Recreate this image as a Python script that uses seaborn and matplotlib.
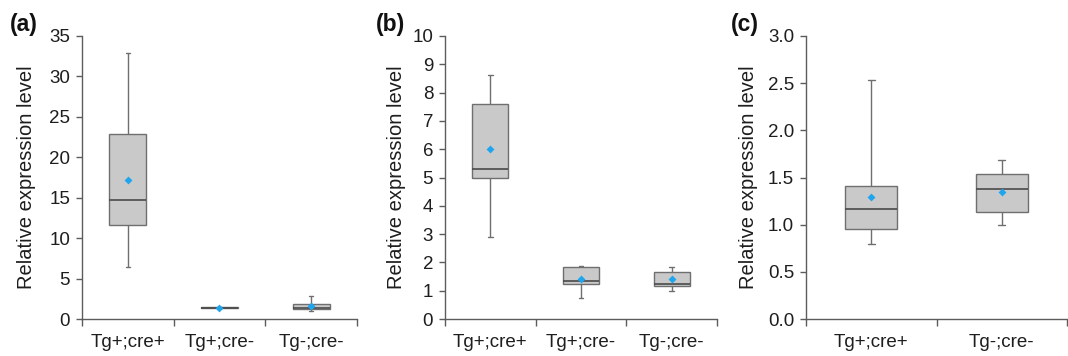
import numpy as np
import pandas as pd
import matplotlib
matplotlib.use("Agg")
import matplotlib.pyplot as plt
import seaborn as sns
from matplotlib.ticker import FixedLocator

sns.set_theme(style="white")
plt.rcParams['font.family'] = ['Liberation Sans', 'DejaVu Sans']

# ---- data ----
groups_a = ["Tg+;cre+", "Tg+;cre-", "Tg-;cre-"]
min_a = [6.42, 1.30, 1.04]
q1_a = [11.68, 1.33, 1.28]
med_a = [14.70, 1.38, 1.40]
q3_a = [22.90, 1.45, 1.90]
max_a = [32.85, 1.48, 2.86]
mean_a = [17.15, 1.41, 1.66]

groups_b = ["Tg+;cre+", "Tg+;cre-", "Tg-;cre-"]
min_b = [2.91, 0.74, 1.00]
q1_b = [5.00, 1.23, 1.18]
med_b = [5.31, 1.35, 1.23]
q3_b = [7.58, 1.83, 1.65]
max_b = [8.62, 1.89, 1.83]
mean_b = [6.01, 1.42, 1.40]

groups_c = ["Tg+;cre+", "Tg-;cre-"]
min_c = [0.79, 1.00]
q1_c = [0.957, 1.13]
med_c = [1.165, 1.377]
q3_c = [1.405, 1.532]
max_c = [2.534, 1.684]
mean_c = [1.288, 1.341]

yticks_a = [0, 5, 10, 15, 20, 25, 30, 35]
yticks_b = list(range(0, 11))
yticks_c = [0.0, 0.5, 1.0, 1.5, 2.0, 2.5, 3.0]
ytick_labels_c = ["0.0", "0.5", "1.0", "1.5", "2.0", "2.5", "3.0"]

ylabel = "Relative expression level"

# ---- figure ----
W, H = 1068, 356
fig = plt.figure(figsize=(W / 100, H / 100), dpi=100)

FILL = "#c9c9c9"
EDGE = "#6f6f6f"
MED = "#4a4a4a"
SPINE = "#5c5c5c"
MEANC = "#1ea5ee"
TXT = "#1e1e1e"


def panel(rect, groups, mins, q1s, meds, q3s, maxs, means, yticks, ylim,
          letter, letter_x, ylabel_x, yticklabels=None):
    ax = fig.add_axes(rect)
    rows = []
    for g, a, b, c, d, e in zip(groups, mins, q1s, meds, q3s, maxs):
        for v in (a, b, c, d, e):
            rows.append({"group": g, "value": v})
    df = pd.DataFrame(rows)
    sns.boxplot(data=df, x="group", y="value", order=groups, ax=ax,
                whis=np.inf, width=0.4, color=FILL, linecolor=EDGE,
                linewidth=1.0, capwidths=0.05, showfliers=False,
                medianprops={"color": MED, "linewidth": 1.2})
    sns.stripplot(x=groups, y=means, order=groups, ax=ax, jitter=False,
                  marker="D", color=MEANC, size=4, linewidth=0, zorder=5)
    n = len(groups)
    ax.set_xlim(-0.5, n - 0.5)
    ax.set_ylim(*ylim)
    ax.set_yticks(yticks)
    if yticklabels is not None:
        ax.set_yticklabels(yticklabels)
    ax.xaxis.set_minor_locator(FixedLocator([i - 0.5 for i in range(n + 1)]))
    ax.tick_params(axis="x", which="major", length=0, pad=11,
                   labelsize=13.5, colors=TXT)
    ax.tick_params(axis="x", which="minor", length=5, width=1,
                   color=SPINE, direction="out", bottom=True)
    ax.tick_params(axis="y", which="major", length=4.5, width=1, color=SPINE,
                   direction="out", left=True, labelsize=13.5, pad=4,
                   labelcolor=TXT)
    for s in ("top", "right"):
        ax.spines[s].set_visible(False)
    for s in ("left", "bottom"):
        ax.spines[s].set_color(SPINE)
        ax.spines[s].set_linewidth(1.0)
    ax.set_xlabel("")
    ax.set_ylabel(ylabel, fontsize=14.5, color=TXT)
    x0 = rect[0] * W
    wpx = rect[2] * W
    ax.yaxis.set_label_coords((ylabel_x - x0) / wpx, 0.5)
    fig.text(letter_x / W, 1 - 24 / H, letter, fontsize=16.5,
             fontweight="bold", ha="left", va="center", color="#111111")
    return ax


bottom = 1 - 319 / H
top_px = 36
height = (319 - top_px) / H

panel([82 / W, bottom, 275 / W, height], groups_a, min_a, q1_a, med_a,
      q3_a, max_a, mean_a, yticks_a, (0, 35), "(a)", 10, 36)
panel([445 / W, bottom, 272 / W, height], groups_b, min_b, q1_b, med_b,
      q3_b, max_b, mean_b, yticks_b, (0, 10), "(b)", 376, 406)
panel([806 / W, bottom, 261 / W, height], groups_c, min_c, q1_c, med_c,
      q3_c, max_c, mean_c, yticks_c, (0, 3), "(c)", 731, 758,
      yticklabels=ytick_labels_c)

fig.savefig("out.png", dpi=100)
